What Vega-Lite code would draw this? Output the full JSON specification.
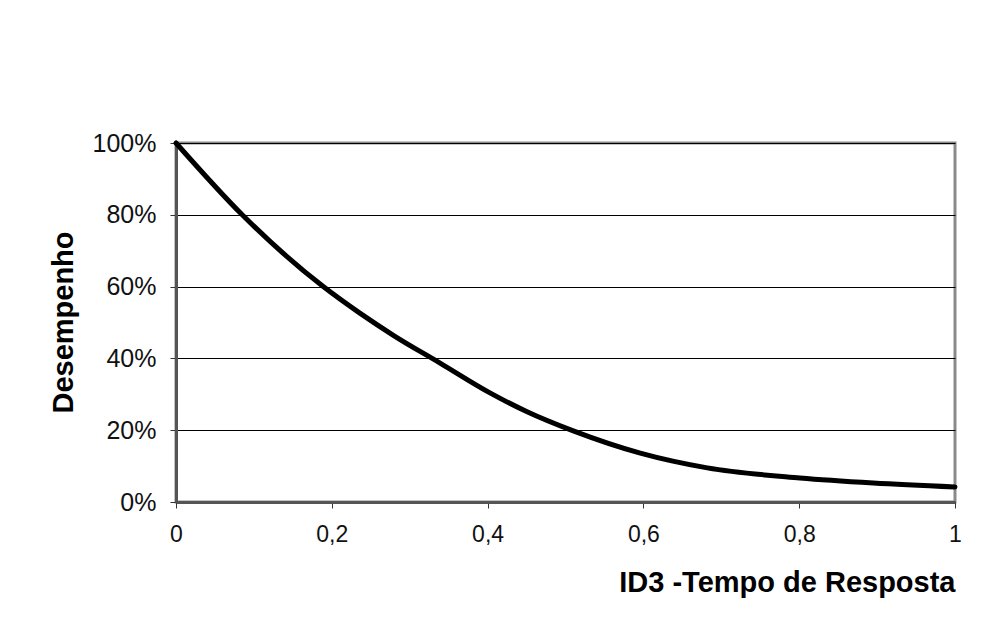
{
  "$schema": "https://vega.github.io/schema/vega-lite/v6.json",
  "width": 779,
  "height": 359,
  "autosize": {"type": "none"},
  "padding": {"left": 176, "top": 143, "right": 32, "bottom": 127},
  "background": "white",
  "config": {
    "font": "Liberation Sans",
    "view": {"stroke": "#8a8a8a", "strokeWidth": 3},
    "axis": {
      "labelFont": "Liberation Sans",
      "titleFont": "Liberation Sans",
      "labelColor": "#111111",
      "titleColor": "#000000",
      "domainColor": "#555555",
      "domainWidth": 3,
      "tickColor": "#333333",
      "tickWidth": 1,
      "tickSize": 6,
      "gridColor": "#000000",
      "gridWidth": 1,
      "gridOpacity": 1
    }
  },
  "data": {
    "values": [
      {"tempo": 0.0, "desempenho": 1.0},
      {"tempo": 0.085, "desempenho": 0.8},
      {"tempo": 0.189, "desempenho": 0.6},
      {"tempo": 0.236, "desempenho": 0.526},
      {"tempo": 0.28, "desempenho": 0.463},
      {"tempo": 0.339, "desempenho": 0.387},
      {"tempo": 0.403, "desempenho": 0.304},
      {"tempo": 0.45, "desempenho": 0.252},
      {"tempo": 0.51, "desempenho": 0.198},
      {"tempo": 0.596, "desempenho": 0.136},
      {"tempo": 0.682, "desempenho": 0.095},
      {"tempo": 0.801, "desempenho": 0.067},
      {"tempo": 0.895, "desempenho": 0.053},
      {"tempo": 1.0, "desempenho": 0.042}
    ]
  },
  "mark": {"type": "line", "color": "#000000", "strokeWidth": 5, "interpolate": "monotone", "strokeCap": "round"},
  "encoding": {
    "x": {
      "field": "tempo",
      "type": "quantitative",
      "scale": {"domain": [0, 1], "nice": false, "zero": false},
      "axis": {
        "title": "ID3 -Tempo de Resposta",
        "titleFontSize": 29,
        "titleFontWeight": "bold",
        "titleAlign": "right",
        "titleAnchor": "end",
        "titleX": 779,
        "titleY": 89,
        "titleBaseline": "alphabetic",
        "values": [0, 0.2, 0.4, 0.6, 0.8, 1],
        "labelExpr": "replace(format(datum.value, '~g'), '.', ',')",
        "labelFontSize": 23,
        "labelPadding": 15,
        "labelFlush": false,
        "grid": false
      }
    },
    "y": {
      "field": "desempenho",
      "type": "quantitative",
      "scale": {"domain": [0, 1], "nice": false},
      "axis": {
        "title": "Desempenho",
        "titleFontSize": 29,
        "titleFontWeight": "bold",
        "titleX": -113,
        "titleY": 179,
        "titleAngle": -90,
        "titleAlign": "center",
        "titleBaseline": "middle",
        "values": [0, 0.2, 0.4, 0.6, 0.8, 1],
        "format": ".0%",
        "labelFontSize": 25,
        "labelPadding": 14,
        "grid": true
      }
    }
  }
}
